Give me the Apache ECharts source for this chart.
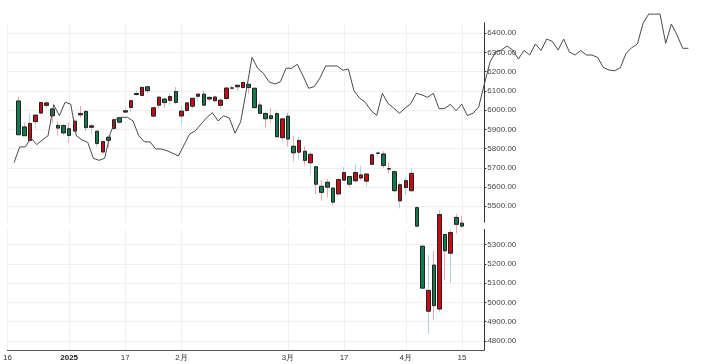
<!DOCTYPE html>
<html>
<head>
<meta charset="utf-8">
<script src="https://cdn.jsdelivr.net/npm/echarts@6/dist/echarts.min.js"></script>
<style>
html,body{margin:0;padding:0;background:#fff;}
#chart{width:707px;height:364px;}
</style>
</head>
<body>
<div id="chart"></div>
<script>
// Trading-day categories (Dec 16 2024 .. Apr 22 2025)
const categories = ['2024-12-16','2024-12-17','2024-12-18','2024-12-19','2024-12-20','2024-12-23','2024-12-24','2024-12-26','2024-12-27','2024-12-30','2024-12-31',
'2025-01-02','2025-01-03','2025-01-06','2025-01-07','2025-01-08','2025-01-10','2025-01-13','2025-01-14','2025-01-15','2025-01-16','2025-01-17','2025-01-21','2025-01-22','2025-01-23','2025-01-24','2025-01-27','2025-01-28','2025-01-29','2025-01-30','2025-01-31',
'2025-02-03','2025-02-04','2025-02-05','2025-02-06','2025-02-07','2025-02-10','2025-02-11','2025-02-12','2025-02-13','2025-02-14','2025-02-18','2025-02-19','2025-02-20','2025-02-21','2025-02-24','2025-02-25','2025-02-26','2025-02-27','2025-02-28',
'2025-03-03','2025-03-04','2025-03-05','2025-03-06','2025-03-07','2025-03-10','2025-03-11','2025-03-12','2025-03-13','2025-03-14','2025-03-17','2025-03-18','2025-03-19','2025-03-20','2025-03-21','2025-03-24','2025-03-25','2025-03-26','2025-03-27','2025-03-28','2025-03-31',
'2025-04-01','2025-04-02','2025-04-03','2025-04-04','2025-04-07','2025-04-08','2025-04-09','2025-04-10','2025-04-11','2025-04-14','2025-04-15','2025-04-16','2025-04-17','2025-04-21','2025-04-22'];

// OHLC values from 2024-12-18 to 2025-04-15
const ohlcStart = '2024-12-18';
const opens = [6047.6,5912.7,5842.0,5940.3,5984.6,6025.0,6006.2,5920.7,5919.7,
5903.3,5891.1,5982.8,5993.3,5910.7,5890.5,5782.3,5859.0,5905.0,5961.0,5990.0,6014.1,6081.4,6076.3,6121.4,5969.0,6026.0,6057.7,6050.7,6096.8,
5969.6,5998.0,6020.5,6072.2,6083.1,6058.0,6049.3,6025.0,6060.6,6115.5,6121.6,6117.8,6134.5,6114.0,6026.7,5982.7,5970.9,5981.9,5856.7,
5968.3,5812.0,5781.4,5785.9,5726.0,5705.4,5603.7,5624.8,5594.4,5563.9,5635.6,5654.5,5632.4,5646.9,5630.7,5718.1,5775.9,5771.7,5695.6,5679.7,5527.9,
5597.5,5580.8,5492.7,5292.1,4953.8,5193.6,4965.3,5353.2,5255.6,5442.0,5412.0];
const highs = [6070.7,5935.5,5982.1,5978.3,6040.1,6049.8,6006.2,5940.8,5929.7,
5935.1,5949.3,6021.0,6000.7,5927.9,5890.5,5844.0,5871.0,5960.6,5964.7,6014.0,6051.5,6100.8,6118.7,6128.2,6017.0,6069.0,6062.8,6086.6,6120.9,
6022.0,6042.5,6062.9,6084.0,6101.3,6073.4,6076.3,6063.0,6116.9,6127.5,6129.6,6147.4,6134.5,6114.8,6043.7,5992.7,6009.8,5993.7,5959.4,
5986.1,5865.0,5860.6,5812.1,5783.0,5705.4,5636.3,5642.2,5597.8,5645.3,5703.5,5654.5,5715.3,5711.2,5670.8,5775.1,5783.1,5787.0,5732.3,5685.9,5627.6,
5650.6,5695.3,5499.5,5292.1,5246.6,5267.5,5481.3,5353.2,5381.5,5459.5,5450.4];
const lows = [5867.8,5866.1,5832.3,5902.6,5981.4,6007.4,5932.9,5869.2,5868.9,
5829.5,5888.7,5960.0,5890.7,5874.8,5809.5,5773.3,5805.0,5896.0,5931.0,5985.0,5990.0,6076.0,6074.7,6088.7,5962.9,6007.0,6012.9,6027.5,6030.9,
5923.9,5990.9,6007.0,6046.8,6020.0,6044.8,6042.3,6003.0,6051.0,6107.6,6099.5,6111.2,6084.6,6008.6,5977.8,5908.5,5932.7,5858.8,5837.7,
5810.9,5732.6,5742.4,5711.6,5666.3,5564.0,5528.4,5546.0,5504.7,5563.9,5631.1,5597.8,5622.2,5632.6,5603.1,5718.1,5760.8,5698.9,5670.9,5572.4,5488.7,
5558.5,5571.5,5390.8,5069.9,4835.0,4910.4,4948.4,5115.3,5101.6,5358.0,5386.4];
const closes = [5872.2,5867.1,5930.9,5974.1,6040.0,6037.6,5970.8,5906.9,5881.6,
5868.6,5942.5,5975.4,5909.0,5918.3,5827.0,5836.2,5842.9,5949.9,5937.3,5996.7,6049.2,6086.4,6118.7,6101.2,6012.3,6067.7,6039.3,6071.2,6040.5,
5994.6,6037.9,6061.5,6083.6,6026.0,6066.4,6068.5,6052.0,6115.1,6114.6,6129.6,6144.2,6117.5,6013.1,5983.3,5955.3,5956.1,5861.6,5954.5,
5849.7,5778.2,5842.6,5738.5,5770.2,5614.6,5572.1,5599.3,5521.5,5638.9,5675.1,5614.7,5675.3,5662.9,5667.6,5767.6,5776.7,5712.2,5693.3,5580.9,5611.9,
5633.1,5671.0,5396.5,5074.1,5062.3,4982.8,5456.9,5268.1,5363.4,5406.0,5396.6];

// Overlay line: one value per step, starting at the 2024-12-18 slot
const lineStartIndex = 2;
const lineValues = [5727,5809,5809,5855,5821,5845,5867,6029,5971,6041,
6032,5867,5845,5833,5750,5739,5750,5880,5954,5963,
5963,5944,5868,5835,5835,5798,5798,5789,5776,5762,
5819,5876,5893,5928,5961,5987,5944,5971,5959,5880,
5940,6105,6275,6218,6192,6148,6136,6148,6218,6218,
6239,6178,6114,6123,6168,6230,6230,6230,6208,6214,
6100,6063,6040,5998,5973,6088,6035,6011,5984,6010,
6034,6088,6079,6067,6088,6008,6008,6031,5997,6031,
5972,5984,6017,6136,6251,6303,6313,6334,6313,6266,
6311,6287,6344,6311,6370,6358,6313,6370,6303,6287,
6310,6287,6287,6274,6222,6209,6205,6221,6296,6325,
6344,6452,6500,6500,6500,6348,6448,6391,6322,6322];

// x-axis tick labels
const tickDates = ['2024-12-16','2025-01-02','2025-01-17','2025-02-03','2025-03-03','2025-03-17','2025-04-01','2025-04-15'];
const tickTexts = ['16','2025','17','2月','3月','17','4月','15'];
const boldTicks = ['2025'];

// ---- build series data ----
const startIdx = categories.indexOf(ohlcStart);
const fullData = categories.map((d, i) => {
  const k = i - startIdx;
  if (k < 0 || k >= opens.length) return ['-', '-', '-', '-'];
  return [opens[k], closes[k], lows[k], highs[k]];
});
const bodyData = categories.map((d, i) => {
  const k = i - startIdx;
  if (k < 0 || k >= opens.length) return ['-', '-', '-', '-'];
  return [opens[k], closes[k], Math.min(opens[k], closes[k]), Math.max(opens[k], closes[k])];
});
const lineCats = [];
for (let i = 0; i < lineStartIndex + lineValues.length; i++) lineCats.push(String(i));
const lineData = lineCats.map((c, i) => i < lineStartIndex ? null : lineValues[i - lineStartIndex]);

const tickIdx = {};
tickDates.forEach((d, j) => { tickIdx[categories.indexOf(d)] = tickTexts[j]; });
const showTick = (idx) => tickIdx[idx] !== undefined;

const FONT = 'Liberation Sans, Arial, sans-serif';
const STEP = 5.6667;
const LEFT = 2.7;

const chart = echarts.init(document.getElementById('chart'), null, {renderer: 'canvas'});
chart.setOption({
  animation: false,
  backgroundColor: '#ffffff',
  grid: [
    {left: LEFT, top: 22.7, width: STEP * (categories.length - 1), height: 327.3},
    {left: LEFT, top: 14.1, width: STEP * (lineCats.length - 1), height: 335.9}
  ],
  xAxis: [
    {
      type: 'category', gridIndex: 0, data: categories, boundaryGap: false,
      axisLine: {show: true, lineStyle: {color: '#555', width: 1}},
      axisTick: {show: false},
      axisLabel: {
        interval: (idx) => showTick(idx),
        formatter: (val, idx) => {
          const t = tickIdx[idx] !== undefined ? tickIdx[idx] : tickIdx[categories.indexOf(val)];
          if (t === undefined) return '';
          return boldTicks.indexOf(t) >= 0 ? '{b|' + t + '}' : t;
        },
        fontSize: 8, color: '#333', fontFamily: FONT, margin: 4,
        rich: {b: {fontWeight: 'bold', fontSize: 8, color: '#222', fontFamily: FONT}}
      },
      splitLine: {show: true, interval: (idx) => showTick(idx), lineStyle: {color: '#f0f0f0', width: 1}}
    },
    {
      type: 'category', gridIndex: 1, data: lineCats, boundaryGap: false, show: false
    }
  ],
  yAxis: [
    {
      type: 'value', gridIndex: 0, position: 'right', min: 4752, max: 6455, splitNumber: 17,
      scale: true,
      axisLine: {show: true, lineStyle: {color: '#333', width: 1}},
      axisTick: {show: true, length: 2, lineStyle: {color: '#333'}},
      axisLabel: {
        fontSize: 8, color: '#444', fontFamily: FONT, margin: 3,
        showMinLabel: false, showMaxLabel: false,
        formatter: (v) => v.toFixed(2)
      },
      splitLine: {show: true, showMinLine: false, showMaxLine: false, lineStyle: {color: '#f0f0f0', width: 1}}
    },
    {
      type: 'value', gridIndex: 1, min: 4752, max: 6500, show: false, splitLine: {show: false}
    }
  ],
  graphic: {
    elements: [
      {type: 'rect', left: 0, top: 222.5, z: 1, shape: {width: 707, height: 6.5}, style: {fill: '#ffffff'}}
    ]
  },
  series: [
    {
      name: 'wick', type: 'candlestick', xAxisIndex: 0, yAxisIndex: 0, data: fullData, barWidth: 4,
      itemStyle: {color: '#a9d6df', color0: '#f4a3b2', borderColor: '#a9d6df', borderColor0: '#f4a3b2', borderWidth: 1}
    },
    {
      name: 'body', type: 'candlestick', xAxisIndex: 0, yAxisIndex: 0, data: bodyData, barWidth: 4,
      itemStyle: {color: '#c80a14', color0: '#137a4c', borderColor: '#222', borderColor0: '#222', borderWidth: 1}
    },
    {
      name: 'line', type: 'line', xAxisIndex: 1, yAxisIndex: 1, data: lineData,
      showSymbol: false, symbol: 'none', clip: false,
      lineStyle: {color: '#4a4a4a', width: 1}, z: 3
    }
  ]
});
</script>
</body>
</html>
